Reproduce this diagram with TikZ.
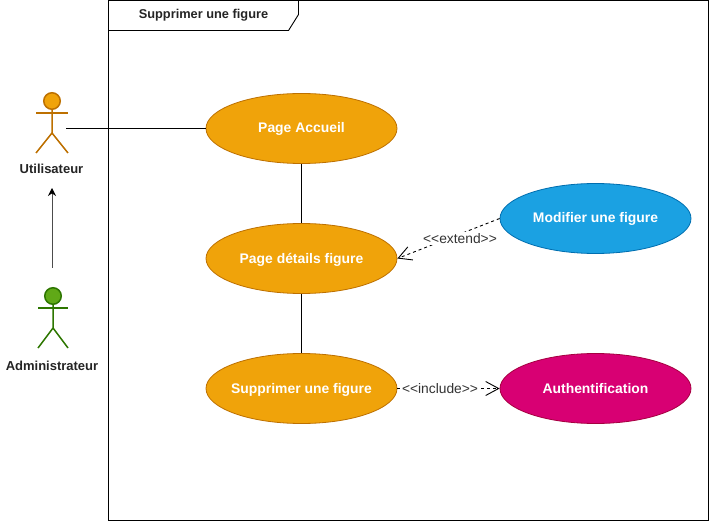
\documentclass[tikz,border=0pt]{standalone}
\usepackage{fontspec}
\setmainfont{Liberation Sans}
\usetikzlibrary{arrows.meta,shapes.geometric}
\definecolor{orfill}{HTML}{F0A30A}
\definecolor{orline}{HTML}{BD7000}
\definecolor{grfill}{HTML}{60A917}
\definecolor{grline}{HTML}{2D7600}
\definecolor{blfill}{HTML}{1BA1E2}
\definecolor{blline}{HTML}{006EAF}
\definecolor{pkfill}{HTML}{D80073}
\definecolor{pkline}{HTML}{A50040}
\definecolor{txt}{HTML}{333333}
\tikzset{
  usecase/.style={ellipse,draw,line width=0.8pt,minimum width=191pt,minimum height=70pt,inner xsep=-10pt,inner ysep=0pt,text=white,text height=11pt,text depth=2pt,font=\fontsize{13.9}{15}\selectfont\bfseries},
  orcase/.style={usecase,fill=orfill,draw=orline},
  blcase/.style={usecase,fill=blfill,draw=blline},
  pkcase/.style={usecase,fill=pkfill,draw=pkline},
  assoc/.style={draw=black,line width=0.9pt},
  dep/.style={draw=black,line width=0.9pt,dashed,dash pattern=on 3pt off 3pt,-{Straight Barb[length=13pt,width=14pt,line width=0.9pt]}},
  deplabel/.style={fill=white,inner sep=1pt,text=txt,font=\fontsize{13.8}{15}\selectfont},
  actorlabel/.style={inner sep=0pt,text=txt!70!black,font=\fontsize{13}{15}\selectfont\bfseries},
  framelabel/.style={inner sep=0pt,text=txt!70!black,font=\fontsize{12.8}{15}\selectfont\bfseries},
  actorhead/.style={circle,line width=1.5pt,minimum size=16.5pt,inner sep=0pt},
}
\begin{document}
\begin{tikzpicture}[x=1pt,y=-1pt]
\useasboundingbox (0,0) rectangle (709,521);
% frame
\draw[line width=0.9pt] (108.5,0.5) rectangle (708.5,520.5);
\draw[line width=0.9pt] (108.5,30.5) -- (288.5,30.5) -- (298.5,14.5) -- (298.5,0.5);
\node[framelabel] (title) at (203.5,15.5) {Supprimer une figure};
% use cases
\node[orcase] (accueil) at (301.5,128.5) {Page Accueil};
\node[orcase] (details) at (301.5,258.5) {Page détails figure};
\node[orcase] (suppr) at (301.5,388.5) {Supprimer une figure};
\node[blcase] (modif) at (595.5,218.5) {Modifier une figure};
\node[pkcase] (auth) at (595.5,388.5) {Authentification};
% associations
\draw[assoc] (accueil) -- (details);
\draw[assoc] (details) -- (suppr);
\coordinate (userhand) at (66,128.5);
\draw[assoc] (userhand) -- (accueil);
% dependencies
\draw[dep] (modif.west) -- (details.east);
\node[deplabel] (extlabel) at (460,238.5) {<{}<extend>{}>};
\draw[dep] (suppr.east) -- (auth.west);
\node[deplabel] (inclabel) at (440,388.5) {<{}<include>{}>};
% Utilisateur actor
\node[actorhead,draw=orline,fill=orfill] (uhead) at (52,101) {};
\draw[orline,line width=1.5pt] (uhead.south) -- (52,133) -- (36,153);
\draw[orline,line width=1.5pt] (52,133) -- (68,153);
\draw[orline,line width=1.5pt] (36,113) -- (68,113);
\node[actorlabel] (ulabel) at (51.5,168.5) {Utilisateur};
% Administrateur actor
\node[actorhead,draw=grline,fill=grfill] (ahead) at (53,296) {};
\draw[grline,line width=1.5pt] (ahead.south) -- (53,328) -- (38,348);
\draw[grline,line width=1.5pt] (53,328) -- (68,348);
\draw[grline,line width=1.5pt] (38,308) -- (68,308);
\node[actorlabel] (alabel) at (52,365.5) {Administrateur};
% generalisation arrow
\coordinate (adminarrow) at (52,268);
\coordinate (userarrow) at (52,188);
\draw[line width=0.9pt,black!70,-{Stealth[length=8pt,width=8pt,black]}] (adminarrow) -- (userarrow);
\end{tikzpicture}
\end{document}
